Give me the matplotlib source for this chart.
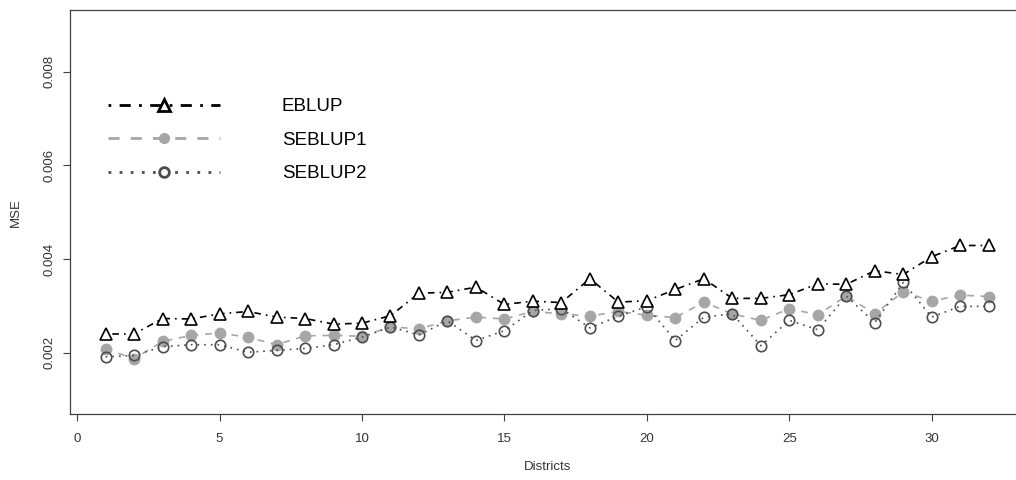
import numpy as np
import matplotlib.pyplot as plt
from matplotlib.lines import Line2D

plt.rcParams['font.family'] = ['Liberation Sans', 'DejaVu Sans']

districts = np.arange(1, 33)

eblup = [0.00240, 0.00240, 0.00273, 0.00272, 0.00283, 0.00288, 0.00276, 0.00273,
         0.00261, 0.00263, 0.00279, 0.00327, 0.00329, 0.00340, 0.00303, 0.00310,
         0.00307, 0.00358, 0.00308, 0.00311, 0.00335, 0.00358, 0.00316, 0.00316,
         0.00324, 0.00347, 0.00346, 0.00375, 0.00367, 0.00405, 0.00429, 0.00429]

seblup1 = [0.00208, 0.00187, 0.00224, 0.00237, 0.00242, 0.00233, 0.00217, 0.00236,
           0.00237, 0.00235, 0.00255, 0.00251, 0.00268, 0.00276, 0.00272, 0.00288,
           0.00283, 0.00278, 0.00288, 0.00280, 0.00275, 0.00308, 0.00283, 0.00269,
           0.00294, 0.00281, 0.00321, 0.00283, 0.00330, 0.00310, 0.00323, 0.00320]

seblup2 = [0.00191, 0.00194, 0.00213, 0.00217, 0.00217, 0.00201, 0.00205, 0.00209,
           0.00217, 0.00233, 0.00255, 0.00238, 0.00268, 0.00226, 0.00247, 0.00290,
           0.00294, 0.00253, 0.00278, 0.00298, 0.00226, 0.00276, 0.00283, 0.00215,
           0.00269, 0.00249, 0.00321, 0.00264, 0.00350, 0.00276, 0.00299, 0.00299]

xticks = [0, 5, 10, 15, 20, 25, 30]
yticks = [0.002, 0.004, 0.006, 0.008]

c1 = 'black'
c2 = '#a6a6a6'
c3 = '#4d4d4d'
ls1 = (0, (1, 3, 4, 3))
ls2 = (0, (4, 4))
ls3 = (0, (1, 3))

fig = plt.figure(figsize=(10.16, 4.8), dpi=100)
ax = fig.add_axes([0.0692, 0.1365, 0.9387, 0.8427])

ax.plot(districts, eblup, color=c1, ls=ls1, lw=1.2, marker='^', ms=8,
        mfc='white', mec=c1, mew=1.2, zorder=3)
ax.plot(districts, seblup1, color=c2, ls=ls2, lw=1.2, marker='o', ms=7.5,
        mfc=c2, mec=c2, zorder=2)
ax.plot(districts, seblup2, color=c3, ls=ls3, lw=1.2, marker='o', ms=7.5,
        mfc='none', mec=c3, mew=1.2, zorder=2)

ax.set_xlim(-0.24, 33.24)
ax.set_ylim(0.00068, 0.00932)
ax.set_xticks(xticks)
ax.set_yticks(yticks)
ax.set_yticklabels([f'{v:.3f}' for v in yticks], rotation=90, va='center')
ax.tick_params(direction='out', length=5, width=0.8, colors='#404040',
               labelsize=9.5, labelcolor='#333333')
ax.tick_params(axis='x', pad=8)
ax.tick_params(axis='y', pad=6)
for s in ax.spines.values():
    s.set_color('#404040')
    s.set_linewidth(0.9)

ax.set_xlabel('Districts', fontsize=9.5, color='#333333', labelpad=12)
ax.set_ylabel('MSE', fontsize=9.5, color='#333333', labelpad=15)

handles = [
    Line2D([], [], color=c1, ls=ls1, lw=2, marker='^', ms=9, mfc='white', mec=c1, mew=2),
    Line2D([], [], color=c2, ls=ls2, lw=2, marker='o', ms=7, mfc=c2, mec=c2),
    Line2D([], [], color=c3, ls=ls3, lw=2, marker='o', ms=7, mfc='white', mec=c3, mew=2),
]
ax.legend(handles, ['EBLUP', 'SEBLUP1', 'SEBLUP2'], loc='upper left',
          bbox_to_anchor=(0.039, 0.782), frameon=False, fontsize=13.5,
          handlelength=6.0, handletextpad=3.3, labelspacing=0.87,
          numpoints=1, borderaxespad=0, borderpad=0)

fig.savefig('out.png', dpi=100)
